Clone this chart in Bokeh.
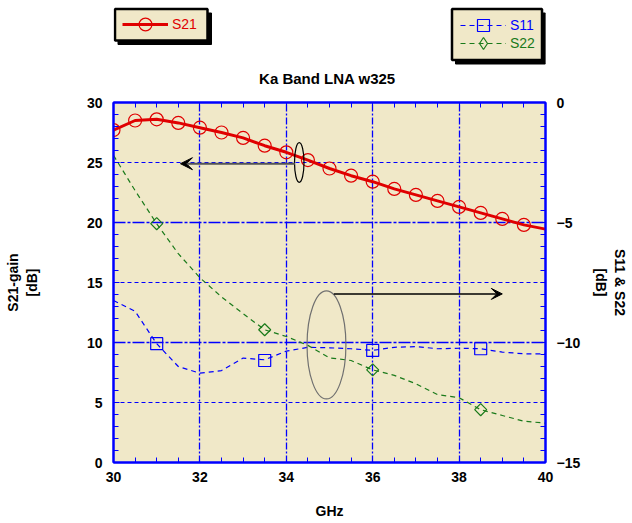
import math
from bokeh.plotting import figure
from bokeh.layouts import column
from bokeh.models import (Range1d, LinearAxis, SingleIntervalTicker, FixedTicker, Grid,
                          Legend, LegendItem, Label, Arrow, VeeHead)
from bokeh.embed import file_html
from bokeh.resources import INLINE

# ---------------- data ----------------
ghz = [30.0, 30.5, 31.0, 31.5, 32.0, 32.5, 33.0, 33.5, 34.0, 34.5, 35.0,
       35.5, 36.0, 36.5, 37.0, 37.5, 38.0, 38.5, 39.0, 39.5, 40.0]
s21_gain = [27.7, 28.5, 28.6, 28.3, 27.9, 27.5, 27.05, 26.4, 25.85, 25.2, 24.5,
            23.9, 23.4, 22.8, 22.3, 21.8, 21.3, 20.8, 20.3, 19.8, 19.45]
s11_db = [-8.25, -8.7, -10.05, -11.0, -11.28, -11.17, -10.65, -10.72, -10.36, -10.2, -10.22,
          -10.26, -10.33, -10.2, -10.17, -10.26, -10.24, -10.26, -10.4, -10.47, -10.47]
s22_db = [-2.2, -3.67, -5.05, -6.3, -7.3, -8.1, -8.8, -9.47, -9.75, -10.12, -10.64,
          -10.75, -11.14, -11.37, -11.72, -12.17, -12.3, -12.8, -13.04, -13.28, -13.36]
s21_marker_ghz = ghz[:-1]
s21_marker_gain = s21_gain[:-1]
sxx_marker_ghz = [31.0, 33.5, 36.0, 38.5]
s11_marker_db = [-10.05, -10.75, -10.33, -10.26]
s22_marker_db = [-5.05, -9.47, -11.14, -12.8]

title_text = "Ka Band LNA  w325"
x_label = "GHz"
y_left_label = "S21-gain\n[dB]"
y_right_label = "S11 & S22\n[dB]"

# annotation shapes (ellipses + arrows), in chart units
ell_x = [34.3, 34.93]
ell_y = [25.0, 9.8]
ell_w = [0.22, 0.9]
ell_h = [3.3, 9.0]
arrow1 = (34.2, 24.9, 31.55, 24.9)
arrow2 = (35.1, 14.05, 39.0, 14.05)

# ---------------- styling ----------------
BLUE = "#0000FF"
RED = "#E00000"
GREEN = "#1A7A1A"
BG = "#F0E8C8"
FONT = "Liberation Sans"
W = 632
TOP_H = 92
MAIN_H = 523 - TOP_H
FRAME_L, FRAME_R = 113, 545  # page pixels of the chart frame

# ================= top strip: legends + title =================
# (its frame is aligned with the chart frame by the column layout)
top = figure(width=W, height=TOP_H, output_backend="svg", toolbar_location=None,
             x_range=Range1d(FRAME_L, FRAME_R), y_range=Range1d(TOP_H, 0),
             min_border=0, x_axis_location=None, y_axis_location=None,
             background_fill_color="white", border_fill_color="white")
top.outline_line_color = None
top.grid.visible = False

# legend boxes with drop shadows (page pixel coordinates)
top.quad(left=[117.5, 455], right=[211, 545], top=[12.5, 12.5], bottom=[44, 63.5],
         fill_color="black", line_color="black")
top.quad(left=[114.5, 451.5], right=[207, 541.5], top=[8.5, 8.5], bottom=[40, 59.5],
         fill_color=BG, line_color="black", line_width=2.5)

# legend sample glyphs (one point far outside the view, so only the legend shows them)
off = [-10000]
lg_s21_line = top.line(off, off, line_color=RED, line_width=3)
lg_s21_mark = top.scatter(off, off, marker="circle", size=13, line_color=RED, line_width=1.2,
                          fill_alpha=0)
lg_s11_line = top.line(off, off, line_color=BLUE, line_width=1.2, line_dash="5 4")
lg_s11_mark = top.scatter(off, off, marker="square", size=12, line_color=BLUE, line_width=1.2,
                          fill_alpha=0)
lg_s22_line = top.line(off, off, line_color=GREEN, line_width=1.2, line_dash="5 4")
lg_s22_mark = top.scatter(off, off, marker="diamond", size=12,
                          line_color=GREEN, line_width=1.2, fill_alpha=0)


def legend(items, loc, color, gh):
    return Legend(items=items, location=loc, orientation="vertical",
                  glyph_width=46, glyph_height=gh, label_height=gh, label_standoff=4,
                  padding=0, spacing=0, margin=0,
                  label_text_font=FONT, label_text_font_size="14px", label_text_color=color,
                  border_line_alpha=0, background_fill_alpha=0)


# legend rows: centre y = 24 (S21), 25 (S11), 43 (S22)
top.add_layout(legend([LegendItem(label="S21", renderers=[lg_s21_line, lg_s21_mark])],
                      (122 - FRAME_L, TOP_H - (24 + 16)), RED, 32), "center")
top.add_layout(legend([LegendItem(label="S11", renderers=[lg_s11_line, lg_s11_mark])],
                      (460 - FRAME_L, TOP_H - (25 + 15)), BLUE, 30), "center")
top.add_layout(legend([LegendItem(label="S22", renderers=[lg_s22_line, lg_s22_mark])],
                      (460 - FRAME_L, TOP_H - (43 + 15)), GREEN, 30), "center")

top.add_layout(Label(x=329, y=78, text=title_text, text_align="center", text_baseline="middle",
                     text_font=FONT, text_font_style="bold", text_font_size="15px",
                     text_color="black"))

# ================= main chart =================
p = figure(width=W, height=MAIN_H, output_backend="svg", toolbar_location=None,
           x_range=Range1d(30, 40), y_range=Range1d(0, 30),
           min_border_left=FRAME_L, min_border_right=W - FRAME_R, min_border_top=10,
           min_border_bottom=61,
           background_fill_color=BG, border_fill_color="white",
           x_axis_location=None, y_axis_location=None)
p.extra_y_ranges = {"r": Range1d(-15, 0)}
p.outline_line_color = BLUE
p.outline_line_width = 2
p.grid.visible = False


def style_axis(ax):
    ax.axis_line_color = BLUE
    ax.axis_line_width = 2
    ax.major_tick_line_color = BLUE
    ax.minor_tick_line_color = BLUE
    ax.major_tick_in = 6
    ax.major_tick_out = 0
    ax.minor_tick_in = 5
    ax.minor_tick_out = 0
    ax.major_label_text_font = FONT
    ax.major_label_text_font_style = "bold"
    ax.major_label_text_font_size = "14px"
    ax.major_label_text_color = "black"
    ax.axis_label_text_font = FONT
    ax.axis_label_text_font_style = "bold"
    ax.axis_label_text_font_size = "14px"
    ax.axis_label_text_color = "black"


xb = LinearAxis(ticker=SingleIntervalTicker(interval=2, num_minor_ticks=4), axis_label=x_label)
style_axis(xb)
xb.major_label_standoff = 9
xb.axis_label_standoff = 18
p.add_layout(xb, "below")

xt = LinearAxis(ticker=FixedTicker(ticks=[], minor_ticks=ghz))
style_axis(xt)
p.add_layout(xt, "above")

yl = LinearAxis(ticker=SingleIntervalTicker(interval=5, num_minor_ticks=5), axis_label=y_left_label)
style_axis(yl)
yl.major_label_standoff = 11
yl.axis_label_standoff = 44
p.add_layout(yl, "left")

yr = LinearAxis(y_range_name="r", ticker=SingleIntervalTicker(interval=5, num_minor_ticks=10),
                axis_label=y_right_label)
style_axis(yr)
yr.major_label_standoff = 11
yr.axis_label_standoff = 10
p.add_layout(yr, "right")

# grid lines
gx = Grid(dimension=0, ticker=FixedTicker(ticks=[32, 34, 36, 38]),
          grid_line_color=BLUE, grid_line_width=1.3, grid_line_dash="7 2 2 2")
gl = Grid(dimension=1, ticker=FixedTicker(ticks=[5, 15, 25]),
          grid_line_color=BLUE, grid_line_width=1.2, grid_line_dash="4 3")
gr = Grid(dimension=1, y_range_name="r", ticker=FixedTicker(ticks=[-5, -10]),
          grid_line_color=BLUE, grid_line_width=1.3, grid_line_dash="12 2 3 2")
for g in (gx, gl, gr):
    p.add_layout(g, "center")

# series
p.line(ghz, s11_db, y_range_name="r", line_color=BLUE, line_width=1.2, line_dash="5 4")
p.scatter(sxx_marker_ghz, s11_marker_db, y_range_name="r", marker="square", size=12,
          line_color=BLUE, line_width=1.2, fill_alpha=0)
p.line(ghz, s22_db, y_range_name="r", line_color=GREEN, line_width=1.2, line_dash="5 4")
p.scatter(sxx_marker_ghz, s22_marker_db, y_range_name="r", marker="square", angle=math.pi / 4,
          size=8.5, line_color=GREEN, line_width=1.2, fill_alpha=0)
p.line(ghz, s21_gain, line_color=RED, line_width=3)
p.scatter(s21_marker_ghz, s21_marker_gain, marker="circle", size=13,
          line_color=RED, line_width=1.2, fill_alpha=0)

# ellipses + arrows
p.ellipse(x=ell_x[:1], y=ell_y[:1], width=ell_w[:1], height=ell_h[:1],
          fill_alpha=0, line_color="black", line_width=1.2)
p.ellipse(x=ell_x[1:], y=ell_y[1:], width=ell_w[1:], height=ell_h[1:],
          fill_alpha=0, line_color="#707070", line_width=1.2)
p.add_layout(Arrow(x_start=arrow1[0], y_start=arrow1[1], x_end=arrow1[2], y_end=arrow1[3],
                   line_color="#555555", line_width=2,
                   end=VeeHead(size=12, fill_color="black", line_color="black")))
p.add_layout(Arrow(x_start=arrow2[0], y_start=arrow2[1], x_end=arrow2[2], y_end=arrow2[3],
                   line_color="black", line_width=1.5,
                   end=VeeHead(size=11, fill_color="black", line_color="black")))

layout = column(top, p, spacing=0)
open("out.html", "w").write(file_html(layout, INLINE))
